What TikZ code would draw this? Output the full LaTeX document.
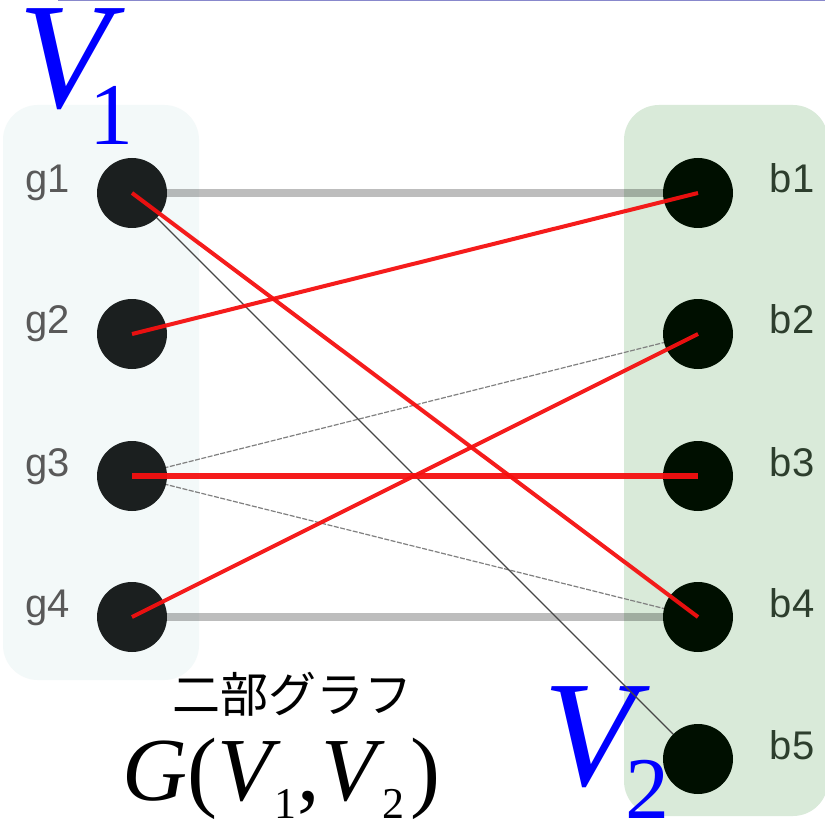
\documentclass[tikz,border=0pt]{standalone}
\usepackage{fontspec}
\setmainfont{Liberation Serif}
\newfontfamily\labfont{Liberation Sans}
\newfontfamily\jpfont{Noto Sans CJK JP}
\definecolor{leftbox}{RGB}{243,249,249}
\definecolor{rightbox}{RGB}{217,234,217}
\definecolor{leftnode}{RGB}{27,31,31}
\definecolor{rightnode}{RGB}{0,15,0}
\definecolor{topline}{RGB}{136,136,204}
\definecolor{redline}{RGB}{245,16,16}
\definecolor{vblue}{RGB}{0,0,255}
\begin{document}
\begin{tikzpicture}[x=1pt,y=-1pt,
  dot/.style={circle,minimum size=70pt,inner sep=0pt},
  gdot/.style={dot,fill=leftnode},
  bdot/.style={dot,fill=rightnode},
  glab/.style={anchor=base,inner sep=0pt,font=\labfont\fontsize{40}{40}\selectfont,text=black!65},
  blab/.style={anchor=base,inner sep=0pt,font=\labfont\fontsize{40}{40}\selectfont,text={rgb,255:red,45;green,62;blue,45}},
  redge/.style={draw=redline,line width=4pt,opacity=0.95},
  thickgray/.style={draw=black,opacity=0.26,line width=7.5pt},
  thinedge/.style={draw=black!72,line width=1.3pt},
  lightedge/.style={draw=black!50,line width=1.2pt,dash pattern=on 5pt off 1.5pt},
  bigv/.style={anchor=base west,inner sep=0pt,text=vblue,font=\fontsize{151}{151}\selectfont\itshape},
  subn/.style={anchor=base,inner sep=0pt,text=vblue,font=\fontsize{88}{88}\selectfont}]
\useasboundingbox (0,0) rectangle (825,821);
\fill[white] (0,0) rectangle (825,821);
\draw[topline,line width=1.5pt] (58,0.75) -- (825,0.75);
% boxes
\fill[leftbox,rounded corners=35pt] (3,105) rectangle (199,680);
\fill[rightbox,rounded corners=35pt] (624,105) rectangle (828,816);
% node positions
\coordinate (pg1) at (132,193);
\coordinate (pg2) at (132,334);
\coordinate (pg3) at (132,476);
\coordinate (pg4) at (132,617);
\coordinate (pb1) at (698,193);
\coordinate (pb2) at (698,334);
\coordinate (pb3) at (698,476);
\coordinate (pb4) at (698,617);
\coordinate (pb5) at (698,759);
% V2 label
\node[bigv] (v2) at (543,785) {V};
\node[subn] (v2s) at (647,818) {2};
% under edges
\draw[thickgray] (pg1) -- (pb1);
\draw[thickgray] (pg4) -- (pb4);
\draw[lightedge] (pg3) -- (pb2);
\draw[lightedge] (pg3) -- (pb4);
\draw[thinedge] (pg1) -- (pb5);
% nodes
\node[gdot] (g1) at (pg1) {};
\node[gdot] (g2) at (pg2) {};
\node[gdot] (g3) at (pg3) {};
\node[gdot] (g4) at (pg4) {};
\node[bdot] (b1) at (pb1) {};
\node[bdot] (b2) at (pb2) {};
\node[bdot] (b3) at (pb3) {};
\node[bdot] (b4) at (pb4) {};
\node[bdot] (b5) at (pb5) {};
% red edges
\draw[redge] (g1.center) -- (b4.center);
\draw[redge] (g2.center) -- (b1.center);
\draw[redge] (g4.center) -- (b2.center);
\draw[redge,line width=6.5pt] (g3.center) -- (b3.center);
% labels
\node[glab] (lg1) at (48,193) {g1};
\node[glab] (lg2) at (48,334) {g2};
\node[glab] (lg3) at (48,476) {g3};
\node[glab] (lg4) at (48,617) {g4};
\node[blab] (lb1) at (792,193) {b1};
\node[blab] (lb2) at (792,334) {b2};
\node[blab] (lb3) at (792,476) {b3};
\node[blab] (lb4) at (792,617) {b4};
\node[blab] (lb5) at (792,759) {b5};
% V1 label
\node[bigv] (v1) at (18,108) {V};
\node[subn] (v1s) at (111,145) {1};
% title
\node[inner sep=0pt,font=\jpfont\fontsize{48}{48}\selectfont] (jp) at (292,694) {二部グラフ};
\node[anchor=base west,inner sep=0pt,font=\fontsize{90}{90}\selectfont] (gv) at (122,800)
  {\textit{G}(\textit{V}\kern-6pt\raisebox{-18pt}{\fontsize{44}{44}\selectfont 1}\kern1pt,\kern1pt\textit{V}\kern-2pt\raisebox{-18pt}{\fontsize{44}{44}\selectfont 2}\kern6pt)};
\end{tikzpicture}
\end{document}
